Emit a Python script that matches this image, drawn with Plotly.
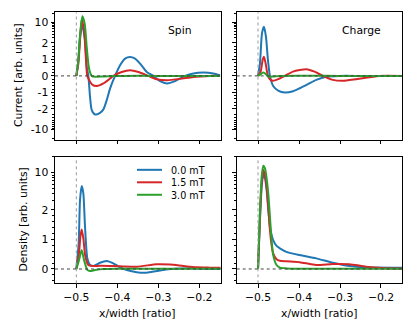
import numpy as np
import plotly.graph_objects as go

fields = ["0.0 mT", "1.5 mT", "3.0 mT"]
colors = ["#1f77b4", "#d62728", "#2ca02c"]

# ---- spin current (top left) ----
spin_x_0 = [-0.5, -0.4951, -0.491, -0.4854, -0.4788, -0.4747, -0.4707, -0.4666, -0.4624, -0.4544,
            -0.4422, -0.434, -0.4259, -0.4178, -0.4056, -0.3934, -0.3812, -0.369, -0.3568, -0.3446,
            -0.3283, -0.3122, -0.2959, -0.2795, -0.2593, -0.2349, -0.2146, -0.1902, -0.1659, -0.1495]
spin_y_0 = [0, 0.95, 3.17, 7.9, 2.46, 0.55, 0, -1.27, -2.21, -3.1,
            -2.72, -2.09, -1.47, -0.77, 0, 0.65, 1.05, 1.15, 1.05, 0.75,
            0.24, 0, -0.32, -0.46, -0.32, 0, 0.15, 0.2, 0.15, 0.04]
spin_x_1 = [-0.5, -0.4951, -0.491, -0.4869, -0.4812, -0.4763, -0.4732, -0.4624, -0.4503, -0.434,
            -0.4178, -0.4098, -0.3893, -0.369, -0.3487, -0.3244, -0.3041, -0.2795, -0.2471, -0.2146,
            -0.1741, -0.1495]
spin_y_1 = [0, 0.75, 2.46, 12.3, 5.4, 0.95, 0, -0.5, -0.62, -0.46,
            -0.16, 0, 0.24, 0.35, 0.24, 0, -0.2, -0.26, -0.18, -0.06,
            0, 0]
spin_x_2 = [-0.5, -0.4951, -0.491, -0.4854, -0.4796, -0.4747, -0.469, -0.4624, -0.4544, -0.434,
            -0.39, -0.3, -0.2, -0.1495]
spin_y_2 = [0, 0.95, 3.63, 15.9, 9.0, 1.76, 0.45, 0, -0.05, -0.03,
            0, 0, 0, 0]

# ---- charge current (top right) ----
charge_x_0 = [-0.5, -0.4952, -0.4903, -0.4855, -0.4806, -0.4758, -0.4709, -0.463, -0.4508, -0.4346,
              -0.4145, -0.3983, -0.3782, -0.3579, -0.3337, -0.3015, -0.25, -0.2, -0.148]
charge_y_0 = [0, 0.77, 4.27, 7.1, 3.24, 0.97, 0, -0.61, -0.89, -1.01,
              -0.93, -0.75, -0.5, -0.24, -0.05, 0, 0, 0, 0]
charge_x_1 = [-0.5, -0.4936, -0.4887, -0.4855, -0.4815, -0.4758, -0.4694, -0.463, -0.4508, -0.4346,
              -0.4145, -0.3822, -0.362, -0.3419, -0.3177, -0.2935, -0.2612, -0.2288, -0.2046, -0.148]
charge_y_1 = [0, 0.26, 0.97, 1.17, 0.77, 0, -0.24, -0.3, -0.2, 0,
              0.26, 0.41, 0.26, 0, -0.24, -0.3, -0.2, -0.08, 0, 0]
charge_x_2 = [-0.5, -0.4927, -0.4871, -0.4815, -0.475, -0.463, -0.4468, -0.3, -0.148]
charge_y_2 = [0, 0.12, 0.2, 0.12, -0.04, -0.04, 0, 0, 0]

# ---- density (bottom left) ----
dens_x_0 = [-0.5, -0.4943, -0.491, -0.4869, -0.4829, -0.4788, -0.4732, -0.4666, -0.4585, -0.4422,
            -0.4259, -0.4098, -0.3934, -0.3771, -0.3527, -0.3283, -0.3039, -0.2715, -0.239, -0.2063,
            -0.1739, -0.148]
dens_y_0 = [0, 0.87, 3.07, 5.62, 4.1, 1.43, 0.36, 0.135, 0.1, 0.21,
            0.27, 0.19, 0.056, -0.034, -0.11, -0.125, -0.068, 0, 0.02, 0.02,
            0, 0]
dens_x_1 = [-0.5, -0.4935, -0.4902, -0.4869, -0.4829, -0.478, -0.4707, -0.4585, -0.4422, -0.4098,
            -0.3527, -0.3039, -0.2715, -0.239, -0.2063, -0.1739, -0.148]
dens_y_1 = [0, 0.53, 1.09, 1.34, 1.04, 0.42, 0.135, 0.1, 0.11, 0.1,
            0.08, 0.16, 0.15, 0.1, 0.055, 0.045, 0.04]
dens_x_2 = [-0.5, -0.4935, -0.4869, -0.4812, -0.4732, -0.4666, -0.4544, -0.4341, -0.4017, -0.3, -0.148]
dens_y_2 = [0, 0.3, 0.64, 0.3, -0.03, -0.068, -0.034, 0, 0.01, 0.01, 0.01]

# ---- density (bottom right) ----
dens2_x_0 = [-0.5, -0.4952, -0.4911, -0.4871, -0.483, -0.479, -0.475, -0.4709, -0.4669, -0.463,
             -0.4548, -0.4467, -0.4306, -0.3983, -0.3579, -0.3177, -0.2772, -0.2368, -0.1562, -0.148]
dens2_y_0 = [0, 1.66, 5.45, 9.1, 7.85, 4.73, 2.0, 1.43, 1.15, 0.98,
             0.78, 0.7, 0.58, 0.47, 0.36, 0.21, 0.1, 0.06, 0.045, 0.045]
dens2_x_1 = [-0.5, -0.4952, -0.4911, -0.4871, -0.483, -0.479, -0.475, -0.4709, -0.4669, -0.463,
             -0.4548, -0.4467, -0.4306, -0.3983, -0.3579, -0.3177, -0.2772, -0.2368, -0.1966, -0.1562, -0.148]
dens2_y_1 = [0, 1.77, 6.3, 11.2, 9.1, 5.45, 2.3, 1.32, 0.81, 0.53,
             0.33, 0.28, 0.26, 0.23, 0.135, 0.17, 0.16, 0.08, 0.035, 0.02, 0.02]
dens2_x_2 = [-0.5, -0.4952, -0.4911, -0.4871, -0.483, -0.479, -0.475, -0.4709, -0.4669, -0.463,
             -0.4548, -0.4467, -0.4306, -0.3983, -0.2, -0.148]
dens2_y_2 = [0, 2.0, 8.4, 13.5, 12.1, 7.85, 4.1, 1.77, 0.98, 0.47,
             0.135, 0.045, 0.02, 0.01, 0.01, 0.01]

current_ticks = [-10, -2, -1, 0, 1, 2, 10]
density_ticks = [0, 1, 2, 10]
x_ticks = [-0.5, -0.4, -0.3, -0.2]

# symlog scale, linthresh 2, base 10, linscale 1 (matplotlib style)
LINTHRESH = 2.0
LINSCALE = 1.0 / (1 - 1 / 10)


def symlog(v):
    v = np.asarray(v, dtype=float)
    a = np.abs(v)
    out = np.where(a <= LINTHRESH, LINSCALE * a / LINTHRESH,
                   LINSCALE + np.log10(np.maximum(a, LINTHRESH) / LINTHRESH))
    return np.sign(v) * out


minor_pos = [0.2, 0.4, 0.6, 0.8, 1.2, 1.4, 1.6, 1.8, 3, 4, 5, 6, 7, 8, 9, 20]
minor_all = [-m for m in minor_pos] + minor_pos

panels = [
    ("x", "y", [(spin_x_0, spin_y_0), (spin_x_1, spin_y_1), (spin_x_2, spin_y_2)]),
    ("x2", "y2", [(charge_x_0, charge_y_0), (charge_x_1, charge_y_1), (charge_x_2, charge_y_2)]),
    ("x3", "y3", [(dens_x_0, dens_y_0), (dens_x_1, dens_y_1), (dens_x_2, dens_y_2)]),
    ("x4", "y4", [(dens2_x_0, dens2_y_0), (dens2_x_1, dens2_y_1), (dens2_x_2, dens2_y_2)]),
]

fig = go.Figure()
for xa, ya, series in panels:
    for i, (xs, ys) in enumerate(series):
        fig.add_trace(go.Scatter(
            x=xs, y=symlog(ys), mode="lines", xaxis=xa, yaxis=ya,
            line=dict(color=colors[i], width=2, shape="spline", smoothing=0.6),
            name=fields[i], showlegend=False, hoverinfo="skip",
        ))

W, H = 415, 332
FONT = "DejaVu Sans"
FS = 10.8
base = dict(showline=True, linecolor="black", linewidth=1, mirror=True,
            ticks="outside", ticklen=3.5, tickwidth=0.8, tickcolor="black",
            showgrid=False, zeroline=False,
            tickfont=dict(family=FONT, size=FS, color="black"))

xdom_l = [55 / W, 220.7 / W]
xdom_r = [236.7 / W, 402.3 / W]
ydom_t = [1 - 139.5 / H, 1 - 12.3 / H]
ydom_b = [1 - 283.3 / H, 1 - 156.7 / H]

xr = [-0.552, -0.148]
xtext = [f"\u2212{abs(t):.1f}" for t in x_ticks]


def xaxis(dom, anchor, labels):
    return dict(base, domain=dom, anchor=anchor, range=xr, tickmode="array",
                tickvals=x_ticks, ticktext=xtext, showticklabels=labels)


def yaxis(dom, anchor, rng, ticks, labels):
    return dict(base, domain=dom, anchor=anchor, range=rng, tickmode="array",
                tickvals=list(symlog(ticks)), ticktext=[str(t) for t in ticks],
                showticklabels=labels,
                minor=dict(tickmode="array", tickvals=list(symlog(minor_all)),
                           ticks="outside", ticklen=2, tickwidth=0.6, tickcolor="black",
                           showgrid=False))


top_rng = [-2.145, 2.145]
bot_rng = [-0.269, 2.111]

fig.update_layout(
    width=W, height=H,
    margin=dict(l=0, r=0, t=0, b=0),
    paper_bgcolor="white", plot_bgcolor="white",
    font=dict(family=FONT, size=FS, color="black"),
    showlegend=False,
    xaxis=xaxis(xdom_l, "y", False),
    xaxis2=xaxis(xdom_r, "y2", False),
    xaxis3=xaxis(xdom_l, "y3", True),
    xaxis4=xaxis(xdom_r, "y4", True),
    yaxis=yaxis(ydom_t, "x", top_rng, current_ticks, True),
    yaxis2=yaxis(ydom_t, "x2", top_rng, current_ticks, False),
    yaxis3=yaxis(ydom_b, "x3", bot_rng, density_ticks, True),
    yaxis4=yaxis(ydom_b, "x4", bot_rng, density_ticks, False),
)

# reference lines
for k in ["", "2", "3", "4"]:
    fig.add_shape(type="line", xref="x" + k, yref=f"y{k} domain", x0=-0.5, x1=-0.5, y0=0, y1=1,
                  line=dict(color="#999999", width=1, dash="dot"))
    fig.add_shape(type="line", xref=f"x{k} domain", yref="y" + k, x0=0, x1=1, y0=0, y1=0,
                  line=dict(color="#444444", width=1, dash="dot"))

ann = [
    dict(text="Spin", x=180 / W, y=1 - 30 / H),
    dict(text="Charge", x=361.7 / W, y=1 - 30 / H),
    dict(text="x/width [ratio]", x=137.9 / W, y=1 - 313.3 / H),
    dict(text="x/width [ratio]", x=319.5 / W, y=1 - 313.3 / H),
    dict(text="Current [arb. units]", x=18 / W, y=1 - 75 / H, textangle=-90),
    dict(text="Density [arb. units]", x=22.5 / W, y=1 - 220 / H, textangle=-90),
]
for a in ann:
    fig.add_annotation(xref="paper", yref="paper", showarrow=False,
                       xanchor="center", yanchor="middle",
                       font=dict(family=FONT, size=FS, color="black"), **a)

# legend drawn in the density panel: one text block, three sample lines
LFS = 9.6
row = LFS * 1.3
mid = 182.3
legend_y = [mid - row, mid, mid + row]
for i, name in enumerate(fields):
    fig.add_shape(type="line", xref="paper", yref="paper",
                  x0=137 / W, x1=162 / W, y0=1 - legend_y[i] / H, y1=1 - legend_y[i] / H,
                  line=dict(color=colors[i], width=2))
fig.add_annotation(xref="paper", yref="paper", showarrow=False,
                   x=170 / W, y=1 - (mid + 0.5) / H, xanchor="left", yanchor="middle",
                   align="left", borderpad=0,
                   text="<br>".join(fields), font=dict(family=FONT, size=LFS, color="black"))

fig.write_html("out.html", config={"displayModeBar": False},
               post_script="document.body.style.margin='0';")
